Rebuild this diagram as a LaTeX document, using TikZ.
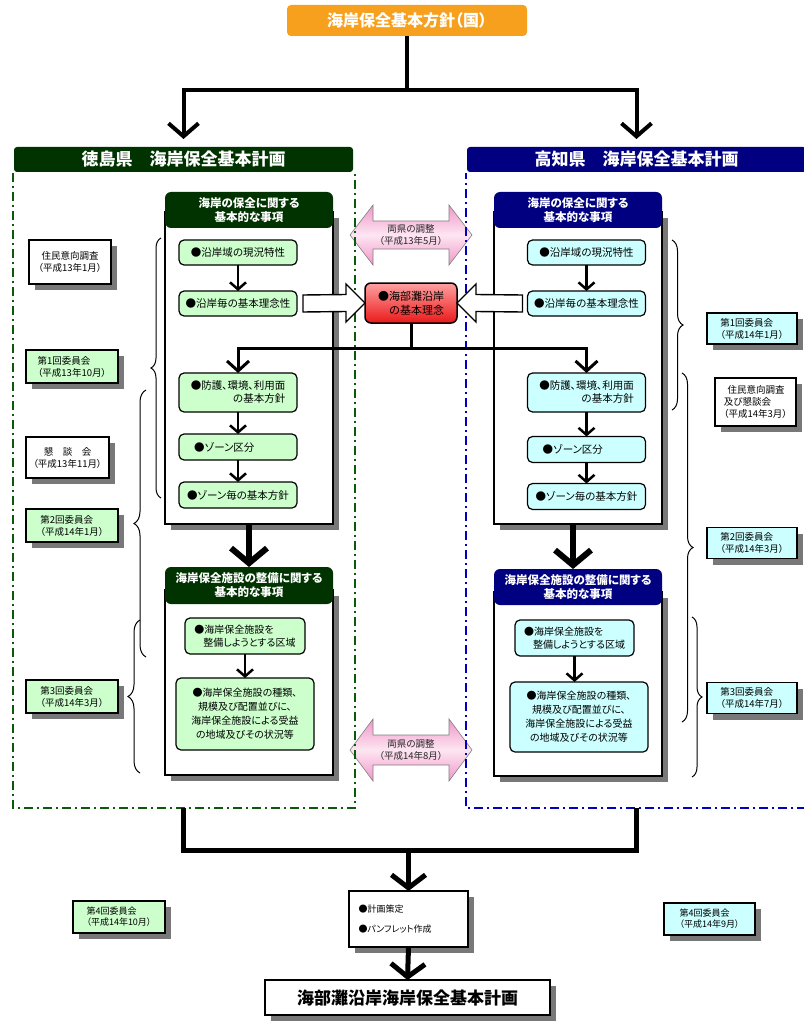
\documentclass[tikz,border=0pt]{standalone}
\usepackage{fontspec}
\setmainfont{Noto Sans CJK JP}[RawFeature=+palt]
\usetikzlibrary{arrows.meta,decorations.pathreplacing,calc}
\definecolor{dgreen}{RGB}{0,51,0}
\definecolor{navyb}{RGB}{0,0,128}
\definecolor{orng}{RGB}{247,160,30}
\definecolor{lgreen}{RGB}{204,255,204}
\definecolor{lcyan}{RGB}{204,255,255}
\definecolor{shgray}{RGB}{120,120,120}
\definecolor{pinkA}{RGB}{240,150,200}
\definecolor{pinkB}{RGB}{253,230,242}
\definecolor{redA}{RGB}{255,160,160}
\definecolor{redB}{RGB}{235,25,25}
\definecolor{gdash}{RGB}{10,90,10}
\definecolor{bdash}{RGB}{0,0,190}
\newcommand\shd[4]{\fill[shgray] (#1+6,#2+6) rectangle (#3+6,#4+6);}
\begin{document}
\begin{tikzpicture}[x=1pt,y=-1pt,
  every node/.style={inner sep=1pt,outer sep=0pt},
  topbox/.style={fill=orng,rounded corners=4pt,text=white,font=\fontsize{16}{19}\selectfont\bfseries,minimum width=240pt,minimum height=31pt},
  titlebar/.style={rounded corners=3pt,text=white,font=\fontsize{17}{20}\selectfont\bfseries,minimum height=25pt,minimum width=339pt},
  hdr/.style={rounded corners=6pt,text=white,font=\fontsize{11.5}{14}\selectfont\bfseries,minimum width=168pt,align=center},
  body/.style={draw,line width=1.5pt,fill=white,minimum width=168pt},
  itm/.style={draw,line width=1.2pt,rounded corners=5pt,font=\fontsize{10.5}{13}\selectfont,minimum width=118pt},
  gitm/.style={itm,fill=lgreen},
  citm/.style={itm,fill=lcyan},
  note/.style={draw,line width=1.6pt,fill=white,font=\fontsize{9.5}{12}\selectfont},
  gnote/.style={note,fill=lgreen,align=left,minimum width=92pt,minimum height=33pt},
  cnote/.style={note,fill=lcyan,align=left,minimum width=90pt,minimum height=31pt},
  kcore/.style={draw,line width=1.5pt,rounded corners=6pt,top color=redA,bottom color=redB,font=\fontsize{11}{14}\selectfont,align=right,minimum width=92pt,minimum height=40pt},
  pinkarr/.style={draw=black!50,line width=0.6pt,top color=pinkA,bottom color=pinkA,middle color=pinkB},
  pinktext/.style={font=\fontsize{9.5}{12}\selectfont,align=center,text=black!85},
  blockarr/.style={draw,line width=1.4pt,fill=white,line join=miter},
  arrA/.style={line width=4pt,-{Straight Barb[length=13pt,width=30pt]}},
  arrB/.style={line width=3pt,-{Straight Barb[length=10pt,width=22pt]}},
  arrS/.style={line width=2.5pt,-{Straight Barb[length=7pt,width=16pt]}},
  arrL/.style={line width=6pt,-{Straight Barb[length=15pt,width=36pt]}},
  arrC/.style={line width=5pt,-{Straight Barb[length=13pt,width=34pt]}},
  brc/.style={decorate,decoration={brace,amplitude=#1},line width=1pt},
  gline/.style={draw=gdash,line width=2pt,dash pattern=on 9pt off 4pt on 2pt off 4pt},
  bline/.style={draw=bdash,line width=2pt,dash pattern=on 9pt off 4pt on 2pt off 4pt}
]
\useasboundingbox (0,0) rectangle (803,1024);
\fill[white] (0,0) rectangle (803,1024);

% shadows of boxes
\shd{165}{212}{333}{524}
\shd{165}{590}{333}{775}
\shd{494}{212}{662}{524}
\shd{494}{592}{662}{776}
\shd{29}{240}{111}{284}
\shd{26}{350}{118}{383}
\shd{26}{437}{109}{478}
\shd{26}{509}{118}{542}
\shd{26}{680}{118}{713}
\shd{73}{901}{165}{933}
\shd{707}{313}{797}{344}
\shd{715}{378}{796}{426}
\shd{707}{527.5}{797}{558.5}
\shd{707}{682.5}{797}{713.5}
\shd{664}{903}{755}{935}
\shd{349}{891}{468}{947}
\shd{265}{980}{550}{1015}

% top
\node[topbox] (top) at (407,20.5) {海岸保全基本方針（国）};
\node[titlebar,fill=dgreen] (ltitle) at (183.5,159.5) {徳島県　海岸保全基本計画};
\node[titlebar,fill=navyb] (rtitle) at (636.5,159.5) {高知県　海岸保全基本計画};
\coordinate (tj) at (407,90);
\draw[arrA,shorten >=8pt] (top.south) -- (tj) -| (ltitle.north);
\draw[arrA,shorten >=8pt] (tj) -| (rtitle.north);

% pink arrows
\coordinate (pc1) at (411,235);
\coordinate (pc2) at (411,750);
\draw[pinkarr,shift={(pc1)}] (-61,0) -- (-38,-30) -- (-38,-14) -- (38,-14) -- (38,-30) -- (61,0) -- (38,30) -- (38,14) -- (-38,14) -- (-38,30) -- cycle;
\draw[pinkarr,shift={(pc2)}] (-61,0) -- (-38,-31) -- (-38,-15) -- (38,-15) -- (38,-31) -- (61,0) -- (38,31) -- (38,15) -- (-38,15) -- (-38,31) -- cycle;
\node[pinktext] (pk1) at (pc1) {両県の調整\\（平成13年5月）};
\node[pinktext] (pk2) at (pc2) {両県の調整\\（平成14年8月）};

% dashed regions
\draw[gline] (13,173) -- (13,808) -- (355,808) -- (355,173);
\draw[bline] (806,808) -- (466,808) -- (466,173);

% left sections
\node[body,minimum height=312pt] (lbody1) at (249,368) {};
\node[hdr,fill=dgreen,minimum height=36pt] (lhead1) at (249,210) {海岸の保全に関する\\基本的な事項};
\node[gitm,minimum height=25pt] (l11) at (238,252.5) {●沿岸域の現況特性};
\node[gitm,minimum height=25pt] (l12) at (238,303.5) {●沿岸毎の基本理念性};
\node[gitm,minimum height=39pt,align=right] (l13) at (238,392.5) {●防護、環境、利用面\\の基本方針};
\node[gitm,minimum height=26pt] (l14) at (238,447) {●ゾーン区分\hspace*{2.6em}};
\node[gitm,minimum height=26pt] (l15) at (238,495) {●ゾーン毎の基本方針};
\draw[arrS] (l11.south) -- (l12.north);
\draw[arrS] (l13.south) -- (l14.north);
\draw[arrS] (l14.south) -- (l15.north);

\node[body,minimum height=185pt] (lbody2) at (249,682.5) {};
\node[hdr,fill=dgreen,minimum height=37pt] (lhead2) at (249,585.5) {海岸保全施設の整備に関する\\基本的な事項};
\node[gitm,minimum width=120pt,minimum height=36pt,align=left,font=\fontsize{10}{13}\selectfont] (l21) at (245,636) {●海岸保全施設を\\\hspace*{0.9em}整備しようとする区域};
\node[gitm,minimum width=138pt,minimum height=72pt,align=center,font=\fontsize{10}{14}\selectfont] (l22) at (245,714) {●海岸保全施設の種類、\\規模及び配置並びに、\\海岸保全施設による受益\\の地域及びその状況等};
\draw[arrS] (l21.south) -- (l22.north);
\draw[arrL] (lbody1.south) -- (lhead2.north);

% right sections
\node[body,minimum height=312pt] (rbody1) at (578,368) {};
\node[hdr,fill=navyb,minimum height=36pt] (rhead1) at (578,210) {海岸の保全に関する\\基本的な事項};
\node[citm,minimum height=25pt] (r11) at (586.5,252.5) {●沿岸域の現況特性};
\node[citm,minimum height=25pt] (r12) at (586.5,303.5) {●沿岸毎の基本理念性};
\node[citm,minimum height=39pt,align=right] (r13) at (586.5,392.5) {●防護、環境、利用面\\の基本方針};
\node[citm,minimum height=26pt] (r14) at (586.5,449.5) {●ゾーン区分\hspace*{2.6em}};
\node[citm,minimum height=26pt] (r15) at (586.5,496.5) {●ゾーン毎の基本方針};
\draw[arrS] (r11.south) -- (r12.north);
\draw[arrS] (r13.south) -- (r14.north);
\draw[arrS] (r14.south) -- (r15.north);

\node[body,minimum height=184pt] (rbody2) at (578,684) {};
\node[hdr,fill=navyb,minimum height=36pt] (rhead2) at (578,587) {海岸保全施設の整備に関する\\基本的な事項};
\node[citm,minimum width=119pt,minimum height=36pt,align=left,font=\fontsize{10}{13}\selectfont] (r21) at (574.5,638) {●海岸保全施設を\\\hspace*{0.9em}整備しようとする区域};
\node[citm,minimum width=138pt,minimum height=70pt,align=center,font=\fontsize{10}{14}\selectfont] (r22) at (579,717) {●海岸保全施設の種類、\\規模及び配置並びに、\\海岸保全施設による受益\\の地域及びその状況等};
\draw[arrS] (r21.south) -- (r21.south |- r22.north);
\draw[arrL] ([xshift=-5pt]rbody1.south) -- ([xshift=-5pt]rbody1.south |- rhead2.north);

% centre
\node[kcore] (core) at (411,303) {●海部灘沿岸\\の基本理念};
\draw[blockarr] ($(l12.east)+(6,-8.5)$) -- ($(core.west)+(-19,-8.5)$) -- ($(core.west)+(-19,-19)$) -- (core.west) -- ($(core.west)+(-19,19)$) -- ($(core.west)+(-19,8.5)$) -- ($(l12.east)+(6,8.5)$) -- cycle;
\draw[blockarr] ($(r12.west)+(-5,-8.5)$) -- ($(core.east)+(19,-8.5)$) -- ($(core.east)+(19,-19)$) -- (core.east) -- ($(core.east)+(19,19)$) -- ($(core.east)+(19,8.5)$) -- ($(r12.west)+(-5,8.5)$) -- cycle;
\coordinate (kj) at (411,348);
\draw[arrB] (core.south) -- (kj) -| (l13.north);
\draw[arrB] (kj) -| (r13.north);

% left notes
\node[note,align=center,minimum width=82pt,minimum height=44pt] (n1) at (70,262) {住民意向調査\\（平成13年1月）};
\node[gnote] (n2) at (72,366.5) {第1回委員会\\（平成13年10月）};
\node[note,align=center,minimum width=83pt,minimum height=41pt] (n3) at (67.5,457.5) {懇　談　会\\（平成13年11月）};
\node[gnote] (n4) at (72,525.5) {第2回委員会\\（平成14年1月）};
\node[gnote] (n5) at (72,696.5) {第3回委員会\\（平成14年3月）};
\draw[brc=10pt] (161,498) -- (161,238);
\draw[brc=12pt] (146,657) -- (146,390);
\draw[brc=12pt] (140,773) -- (140,620);

% right notes
\node[cnote] (m1) at (752,328.5) {第1回委員会\\（平成14年1月）};
\node[note,align=left,minimum width=81pt,minimum height=48pt] (m2) at (755.5,402) {\hspace*{0.4em}住民意向調査\\及び懇談会\\（平成14年3月）};
\node[cnote] (m3) at (752,543) {第2回委員会\\（平成14年3月）};
\node[cnote] (m4) at (752,698) {第3回委員会\\（平成14年7月）};
\draw[brc=11pt] (672,240) -- (672,410);
\draw[brc=11pt] (682,373) -- (682,722);
\draw[brc=10pt] (692,617) -- (692,777);

% bottom
\coordinate (lb) at (183.5,808);
\coordinate (rb) at (636,808);
\coordinate (bj) at (408.5,850);
\draw[line width=5pt] (lb) |- (bj) -| (rb);
\node[note,minimum width=119pt,minimum height=56pt,text width=100pt,align=left,inner sep=0pt,font=\fontsize{9}{11}\selectfont] (plan) at (408.5,919) {●計画策定\\[9pt]●パンフレット作成};
\node[note,minimum width=285pt,minimum height=35pt,font=\fontsize{17}{20}\selectfont\bfseries] (final) at (407.5,997.5) {海部灘沿岸海岸保全基本計画};
\draw[arrC] (bj) -- (plan.north);
\draw[arrC] (plan.south) -- (final.north);
\node[gnote,minimum height=32pt,font=\fontsize{9}{11}\selectfont] (n6) at (119,917) {第4回委員会\\（平成14年10月）};
\node[cnote,minimum width=91pt,minimum height=32pt,font=\fontsize{9}{11}\selectfont] (m5) at (709.5,919) {第4回委員会\\（平成14年9月）};
\end{tikzpicture}
\end{document}
